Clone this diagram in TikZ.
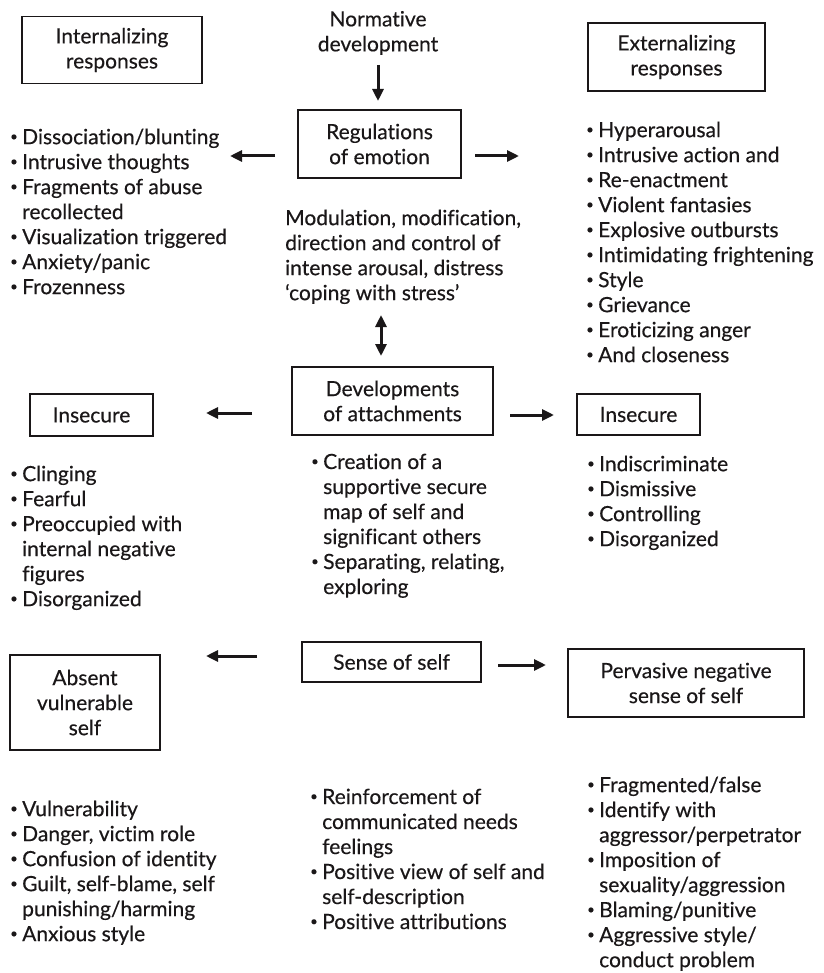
\documentclass[tikz,border=0pt]{standalone}
\usepackage{fontspec}
\setmainfont{Lato}[Ligatures=NoCommon,FakeBold=0.4,BoldFont=Lato]
\usetikzlibrary{arrows.meta}
\definecolor{ink}{HTML}{1A1718}
\newcommand\bu{\makebox[12pt][l]{\raisebox{0.16em}{\fontsize{13}{13}\selectfont\textbullet}}}
\newcommand\ind{\hspace*{12pt}}
\begin{document}
\begin{tikzpicture}[x=1pt,y=-1pt,
  every node/.style={text=ink,font=\fontsize{21}{25}\selectfont\bfseries,inner sep=0pt},
  box/.style={draw=ink,line width=1.5pt,align=center},
  lst/.style={anchor=north west,align=left},
  arr/.style={draw=ink,line width=3pt,-{Triangle[length=12pt,width=11pt]}},
  darr/.style={draw=ink,line width=3pt,{Triangle[length=12pt,width=11pt]}-{Triangle[length=12pt,width=11pt]}}]
\useasboundingbox (0,0) rectangle (823,973);

% top row
\node[align=center] (norm) at (378,33) {Normative\\development};
\node[box,minimum width=180pt,minimum height=67pt] (intr) at (112,50) {Internalizing\\responses};
\node[box,minimum width=177pt,minimum height=68pt] (extr) at (676.5,57) {Externalizing\\responses};
\node[box,minimum width=163pt,minimum height=68pt] (reg) at (379.5,144) {Regulations\\of emotion};

\coordinate (n1) at (378,65); \coordinate (n2) at (378,101);
\draw[arr] (n1) -- (n2);
\coordinate (rl1) at (275,156); \coordinate (rl2) at (230,156);
\draw[arr] (rl1) -- (rl2);
\coordinate (rr1) at (475,156); \coordinate (rr2) at (519,156);
\draw[arr] (rr1) -- (rr2);

\node[lst] (intlist) at (10,128.5) {\bu Dissociation/blunting\\\bu Intrusive thoughts\\\bu Fragments of abuse\\\ind recollected\\\bu Visualization triggered\\\bu Anxiety/panic\\\bu Frozenness};
\node[lst] (extlist) at (586,121.5) {\bu Hyperarousal\\\bu Intrusive action and\\\bu Re-enactment\\\bu Violent fantasies\\\bu Explosive outbursts\\\bu Intimidating frightening\\\bu Style\\\bu Grievance\\\bu Eroticizing anger\\\bu And closeness};
\node[lst] (mod) at (285,209.5) {Modulation, modification,\\direction and control of\\intense arousal, distress\\‘coping with stress’};

\coordinate (d1) at (381,315); \coordinate (d2) at (381,356);
\draw[darr] (d1) -- (d2);

% middle row
\node[box,minimum width=201pt,minimum height=68pt] (att) at (392.5,401) {Developments\\of attachments};
\node[box,minimum width=123pt,minimum height=42pt] (insl) at (91.5,415) {Insecure};
\node[box,minimum width=123pt,minimum height=41pt] (insr) at (638.5,414.5) {Insecure};
\coordinate (al1) at (252,413); \coordinate (al2) at (206,413);
\draw[arr] (al1) -- (al2);
\coordinate (ar1) at (510,415); \coordinate (ar2) at (554,415);
\draw[arr] (ar1) -- (ar2);

\node[lst] (inslist) at (10,465.5) {\bu Clinging\\\bu Fearful\\\bu Preoccupied with\\\ind internal negative\\\ind figures\\\bu Disorganized};
\node[lst] (attlist) at (311,453.5) {\bu Creation of a\\\ind supportive secure\\\ind map of self and\\\ind significant others\\\bu Separating, relating,\\\ind exploring};
\node[lst] (insrlist) at (587,455.5) {\bu Indiscriminate\\\bu Dismissive\\\bu Controlling\\\bu Disorganized};

% bottom row
\node[box,minimum width=179pt,minimum height=40pt] (self) at (391.5,662) {Sense of self};
\node[box,minimum width=150pt,minimum height=95pt] (abs) at (85,702.5) {Absent\\vulnerable\\self};
\node[box,minimum width=236pt,minimum height=68pt] (perv) at (686,683) {Pervasive negative\\sense of self};
\coordinate (sl1) at (257,656); \coordinate (sl2) at (206,656);
\draw[arr] (sl1) -- (sl2);
\coordinate (sr1) at (498,665); \coordinate (sr2) at (546,665);
\draw[arr] (sr1) -- (sr2);

\node[lst] (abslist) at (10,800.5) {\bu Vulnerability\\\bu Danger, victim role\\\bu Confusion of identity\\\bu Guilt, self-blame, self\\\ind punishing/harming\\\bu Anxious style};
\node[lst] (selflist) at (310,788.5) {\bu Reinforcement of\\\ind communicated needs\\\ind feelings\\\bu Positive view of self and\\\ind self-description\\\bu Positive attributions};
\node[lst] (pervlist) at (587,776.5) {\bu Fragmented/false\\\bu Identify with\\\ind aggressor/perpetrator\\\bu Imposition of\\\ind sexuality/aggression\\\bu Blaming/punitive\\\bu Aggressive style/\\\ind conduct problem};
\end{tikzpicture}
\end{document}
